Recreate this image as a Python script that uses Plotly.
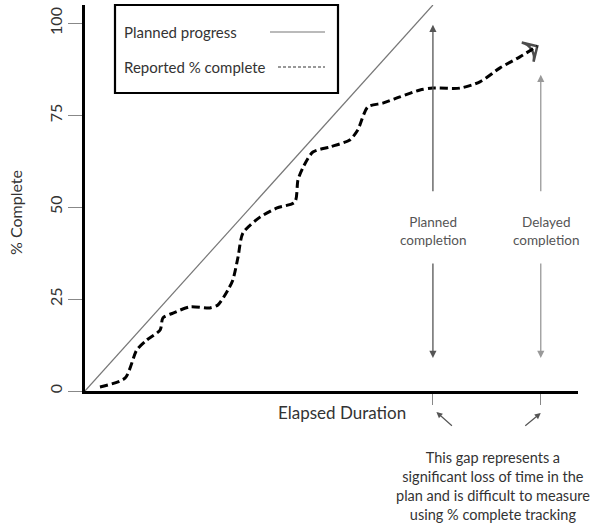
import plotly.graph_objects as go

# ---- data ----
planned_x = [0, 100]
planned_y = [0, 105]

reported_x = [4.3, 11.5, 14.9, 17.8, 21.6, 22.4, 25.3, 30.2, 35.9, 38.2, 41.1, 42.5, 44.0, 45.4,
              50.3, 55.2, 60.3, 61.2, 62.6, 65.5, 70.4, 76.1, 78.4, 81.3, 85.6, 90.5, 96.3,
              100.0, 107.8, 113.5, 119.3, 125.0, 130.0]
reported_y = [1.1, 3.5, 11.2, 13.9, 16.6, 19.9, 21.2, 22.9, 22.6, 23.4, 27.5, 30.2, 36.5, 43.0,
              47.3, 49.8, 51.4, 57.4, 60.7, 65.0, 66.4, 68.3, 71.0, 77.3, 78.3, 80.0, 81.9,
              82.4, 82.4, 84.1, 87.9, 90.9, 93.8]

y_ticks = [0, 25, 50, 75, 100]
x_marks = [100, 131]          # planned completion, delayed completion
x_range = [0, 141.7]
y_range = [0, 105]

FONT = "Lato"
TXT = "#333333"

fig = go.Figure()

fig.add_trace(go.Scatter(x=planned_x, y=planned_y, mode="lines",
                         line=dict(color="#777777", width=1.2),
                         showlegend=False, hoverinfo="skip", cliponaxis=True))

n = len(reported_x)
fig.add_trace(go.Scatter(x=reported_x, y=reported_y, mode="lines+markers",
                         line=dict(color="black", width=3, dash="8px,4px", shape="spline", smoothing=0.7),
                         marker=dict(symbol=["circle"] * (n - 1) + ["arrow-wide-open"],
                                     size=[0] * (n - 1) + [16], angleref="previous",
                                     color="black", line=dict(color="black", width=2.5)),
                         showlegend=False, hoverinfo="skip", cliponaxis=False))

# helpers to place decorations in paper coords from plot-pixel layout
L, R, T, B = 85, 578, 5, 391
def px(xp):
    return (xp - L) / (R - L)
def py(yp):
    return (B - yp) / (B - T)

annotations = []
# vertical arrows
arrow_specs = [
    (x_marks[0], 53.9, 99.6, "#555555"),
    (x_marks[0], 35.1, 9.0, "#555555"),
    (x_marks[1], 53.9, 86.0, "#999999"),
    (x_marks[1], 35.1, 9.0, "#999999"),
]
for xv, y0, y1, c in arrow_specs:
    annotations.append(dict(x=xv, y=y1, ax=xv, ay=y0, xref="x", yref="y", axref="x", ayref="y",
                            text="", showarrow=True, arrowhead=2, arrowsize=1.1, arrowwidth=1.3,
                            arrowcolor=c))

def label(x, y, text, size, color=TXT, xref="paper", **kw):
    d = dict(x=x, y=y, xref=xref, yref="paper", text=text, showarrow=False,
             xanchor="center", yanchor="middle", font=dict(family=FONT, size=size, color=color))
    d.update(kw)
    annotations.append(d)

label(x_marks[0], py(231), "Planned<br>completion", 13.5, "#555555", xref="x")
label(x_marks[1] + 1.4, py(231), "Delayed<br>completion", 13.5, "#555555", xref="x")

# small arrows below axis
annotations.append(dict(x=x_marks[0] + 1, y=py(412), xref="x", yref="paper", ax=17, ay=15,
                        text="", showarrow=True, arrowhead=2, arrowsize=1, arrowwidth=1.2, arrowcolor="#555555"))
annotations.append(dict(x=x_marks[1], y=py(413), xref="x", yref="paper", ax=-17, ay=14,
                        text="", showarrow=True, arrowhead=2, arrowsize=1, arrowwidth=1.2, arrowcolor="#555555"))
# axis titles
label(px(342), py(412), "Elapsed Duration", 17)
label(px(15), py(213), "% Complete", 16, textangle=-90)
# bottom explanation
label(px(493), py(486), "This gap represents a<br>significant loss of time in the<br>"
      "plan and is difficult to measure<br>using % complete tracking", 14.5, align="center")
# legend text
label(px(122), py(32), "Planned progress", 15, xanchor="left")
label(px(122), py(67), "Reported % complete", 15, xanchor="left")

shapes = [
    dict(type="rect", xref="paper", yref="paper", x0=px(115), x1=px(338), y0=py(93), y1=py(5),
         line=dict(color="black", width=2.2), fillcolor="white", layer="above"),
    dict(type="line", xref="paper", yref="paper", x0=px(270), x1=px(325), y0=py(32), y1=py(32),
         line=dict(color="#777777", width=1.2), layer="above"),
    dict(type="line", xref="paper", yref="paper", x0=px(278), x1=px(325), y0=py(67), y1=py(67),
         line=dict(color="#333333", width=1.2, dash="3px,2px"), layer="above"),
]

fig.update_layout(
    width=603, height=526,
    margin=dict(l=L, r=603 - R, t=T, b=526 - B),
    paper_bgcolor="white", plot_bgcolor="white",
    font=dict(family=FONT, color=TXT),
    xaxis=dict(range=x_range, showgrid=False, zeroline=False, showline=True, linecolor="black",
               linewidth=3, ticks="outside", ticklen=11, tickwidth=1.2, tickcolor="#888888",
               tickvals=x_marks, showticklabels=False),
    xaxis2=dict(range=x_range, overlaying="x", anchor="y", side="bottom", showgrid=False,
                zeroline=False, showline=False, ticks="inside", ticklen=11, tickwidth=1.2,
                tickcolor="#888888", tickvals=x_marks, showticklabels=False),
    yaxis=dict(range=y_range, showgrid=False, zeroline=False, showline=True, linecolor="black",
               linewidth=3, ticks="outside", ticklen=14, tickwidth=1.2, tickcolor="#888888",
               tickvals=y_ticks, tickangle=-90, tickfont=dict(family=FONT, size=16, color=TXT)),
    yaxis2=dict(range=y_range, overlaying="y", anchor="x", side="left", showgrid=False,
                zeroline=False, showline=False, ticks="inside", ticklen=14, tickwidth=1.2,
                tickcolor="#888888", tickvals=y_ticks, showticklabels=False),
    annotations=annotations, shapes=shapes, showlegend=False,
)

fig.write_html("out.html", config={"displayModeBar": False},
               post_script="document.body.style.margin='0';document.body.style.overflow='hidden';")
